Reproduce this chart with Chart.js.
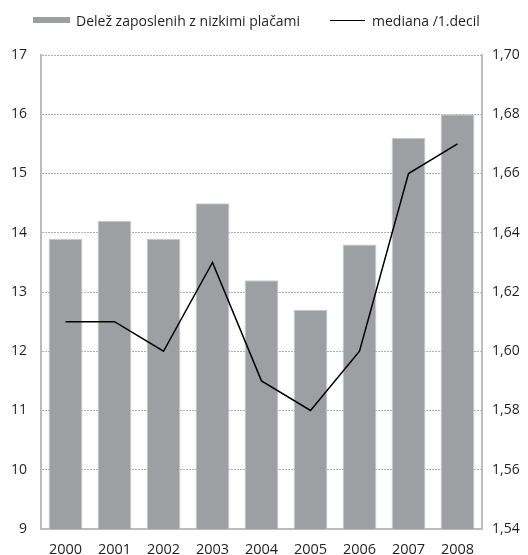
<!DOCTYPE html>
<html>
<head>
<meta charset="utf-8">
<script src="https://cdn.jsdelivr.net/npm/chart.js@4"></script>
<style>
  html, body { margin: 0; padding: 0; background: #fff; }
  #wrap { position: relative; width: 528px; height: 555px; }
  .legend { position: absolute; top: 9px; font: 14px "Open Sans", sans-serif; color: #231f20; white-space: nowrap; }
  .legend span { display: inline-block; vertical-align: middle; }
  .swatch-bar { width: 37px; height: 6px; background: #9c9ea2; margin-right: 6px; }
  .swatch-line { width: 35px; height: 1.5px; background: #000; margin-right: 7px; }
</style>
</head>
<body>
<div id="wrap">
  <canvas id="chart" width="528" height="555"></canvas>
  <div class="legend" style="left:33px"><span class="swatch-bar"></span><span>Delež zaposlenih z nizkimi plačami</span></div>
  <div class="legend" style="left:330px"><span class="swatch-line"></span><span>mediana /1.decil</span></div>
</div>
<script>
/* ===================== DATA ===================== */

const years = ["2000", "2001", "2002", "2003", "2004", "2005", "2006", "2007", "2008"];
const lowPayShare = [13.9, 14.2, 13.9, 14.5, 13.2, 12.7, 13.8, 15.6, 16.0];
const medianToDecile = [1.61, 1.61, 1.60, 1.63, 1.59, 1.58, 1.60, 1.66, 1.67];

/* ===================== STYLE ===================== */

const FONT = { family: "'Open Sans', sans-serif", size: 14 };
const TEXT = "#231f20";
const AXIS_GREY = "#bcbcbc";
const GRID_GREY = "#b0b0b0";

/* ===================== CHART ===================== */

new Chart(document.getElementById("chart"), {
  type: "bar",
  data: {
    labels: years,
    datasets: [
      {
        type: "line",
        label: "mediana /1.decil",
        data: medianToDecile,
        yAxisID: "yRight",
        borderColor: "#000",
        borderWidth: 1.5,
        pointRadius: 0,
        tension: 0,
        order: 1,
      },
      {
        label: "Delež zaposlenih z nizkimi plačami",
        data: lowPayShare,
        yAxisID: "yLeft",
        backgroundColor: "#9d9fa3",
        borderColor: "#c6c7c9",
        borderWidth: 1,
        barPercentage: 0.69,
        categoryPercentage: 1,
        order: 2,
      },
    ],
  },
  options: {
    responsive: false,
    animation: false,
    layout: { padding: { top: 55, left: 0, right: 0, bottom: 0 } },
    plugins: { legend: { display: false }, tooltip: { enabled: false } },
    scales: {
      x: {
        grid: { display: false },
        border: { color: AXIS_GREY, width: 2 },
        ticks: { color: TEXT, font: { ...FONT, size: 14.5 }, padding: 4, maxRotation: 0 },
        afterFit: (s) => { s.height = 26; },
      },
      yLeft: {
        position: "left",
        min: 9,
        max: 17,
        ticks: { stepSize: 1, color: TEXT, font: FONT, padding: 14 },
        // in v4 border.dash sets the dash of the grid lines, the axis line stays solid
        grid: { color: GRID_GREY, lineWidth: 1, drawTicks: false },
        border: { color: AXIS_GREY, width: 2, dash: [2, 1] },
        afterFit: (s) => { s.width = 41; },
      },
      yRight: {
        position: "right",
        min: 1.54,
        max: 1.70,
        ticks: {
          stepSize: 0.02,
          color: TEXT,
          font: FONT,
          padding: 10,
          callback: (v) => v.toFixed(2).replace(".", ","),
        },
        grid: { display: false, drawTicks: false },
        border: { color: AXIS_GREY, width: 2 },
        afterFit: (s) => { s.width = 46; },
      },
    },
  },
});
</script>
</body>
</html>
